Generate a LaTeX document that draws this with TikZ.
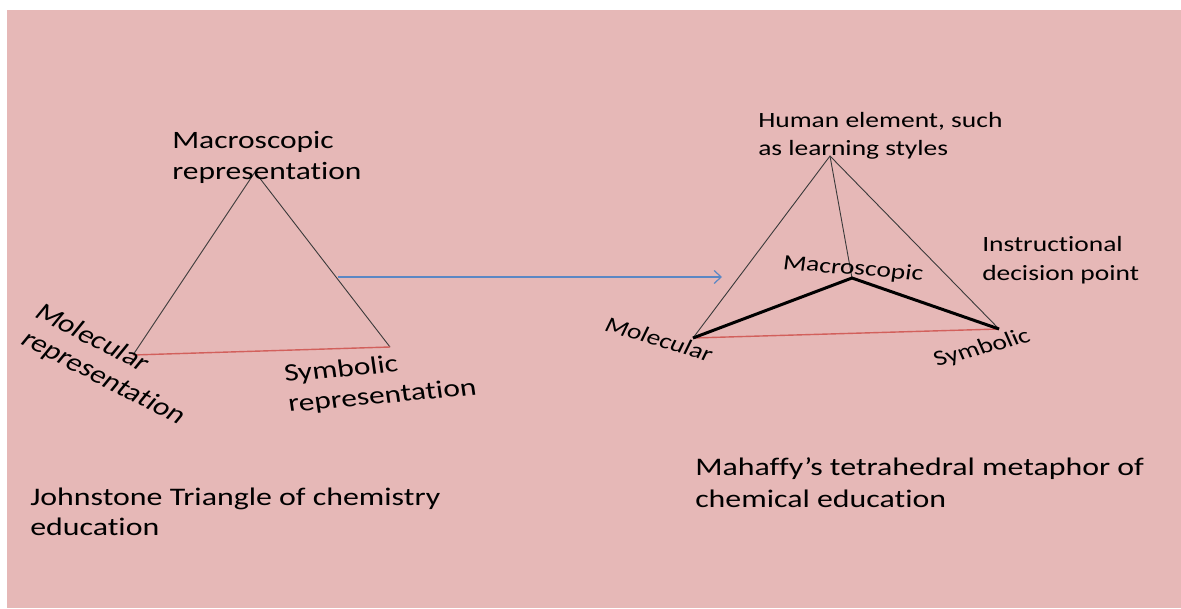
\documentclass[tikz,border=0pt]{standalone}
\usepackage{fontspec}
\setmainfont{Carlito}[Ligatures=NoCommon]
\usetikzlibrary{arrows.meta}
\definecolor{slidepink}{HTML}{E6B8B7}
\definecolor{edgegray}{HTML}{3A3A3A}
\definecolor{basered}{HTML}{D2605C}
\definecolor{arrowblue}{HTML}{5B87C4}
\begin{document}
\begin{tikzpicture}[x=1pt,y=-1pt,
  lbl/.style={anchor=base west, inner sep=0pt, xscale=1.26, text=black},
  big/.style={lbl, font=\fontsize{25}{30}\selectfont},
  small/.style={lbl, font=\fontsize{21.8}{26}\selectfont},
  caption/.style={lbl, font=\fontsize{25.3}{30}\selectfont},
  thin edge/.style={draw=edgegray, line width=0.9pt},
  base edge/.style={draw=basered, line width=1.4pt},
  bold edge/.style={draw=black, line width=3pt},
  link/.style={draw=arrowblue, line width=1.2pt, -{Straight Barb[length=7pt,width=13pt]}}]
\useasboundingbox (0,0) rectangle (1181,608);
\fill[white] (0,0) rectangle (1181,608);
\fill[slidepink] (7,10) rectangle (1181,608);

% Johnstone triangle
\coordinate (jtop) at (255,172);
\coordinate (jmol) at (133,355);
\coordinate (jsym) at (390,347);
\draw[thin edge] (jmol) -- (jtop) -- (jsym);
\draw[base edge] (jmol) -- (jsym);

\node[big] (jmac1) at (172,148) {Macroscopic};
\node[big] (jmac2) at (172,179) {representation};
\node[big, rotate=-33] (jmol1) at (33,316) {Molecular};
\node[big, rotate=-33] (jmol2) at (19,343) {representation};
\node[big, rotate=6.5] (jsym1) at (285,382) {Symbolic};
\node[big, rotate=6.5] (jsym2) at (289,412) {representation};

\node[caption] (jcap1) at (30,505) {Johnstone Triangle of chemistry};
\node[caption] (jcap2) at (30,535) {education};

% arrow between the two models
\coordinate (from) at (338,277);
\coordinate (to) at (722,277);
\draw[link] (from) -- (to);

% Mahaffy tetrahedron
\coordinate (thum) at (830,156);
\coordinate (tmol) at (693,338);
\coordinate (tsym) at (999,329);
\coordinate (tmac) at (852,278);
\draw[thin edge] (tmol) -- (thum) -- (tsym);
\draw[thin edge] (thum) -- (tmac);
\draw[base edge] (tmol) -- (tsym);
\draw[bold edge] (tmol) -- (tmac) -- (tsym);

\node[small] (hum1) at (758,127) {Human element, such};
\node[small] (hum2) at (758,155) {as learning styles};
\node[small] (ins1) at (982,251) {Instructional};
\node[small] (ins2) at (982,280) {decision point};
\node[small, rotate=-6] (tmacl) at (782,269) {Macroscopic};
\node[small, rotate=-21] (tmoll) at (603,330) {Molecular};
\node[small, rotate=19] (tsyml) at (937,367) {Symbolic};

\node[caption] (mcap1) at (695,475) {Mahaffy’s tetrahedral metaphor of};
\node[caption] (mcap2) at (695,507) {chemical education};
\end{tikzpicture}
\end{document}
